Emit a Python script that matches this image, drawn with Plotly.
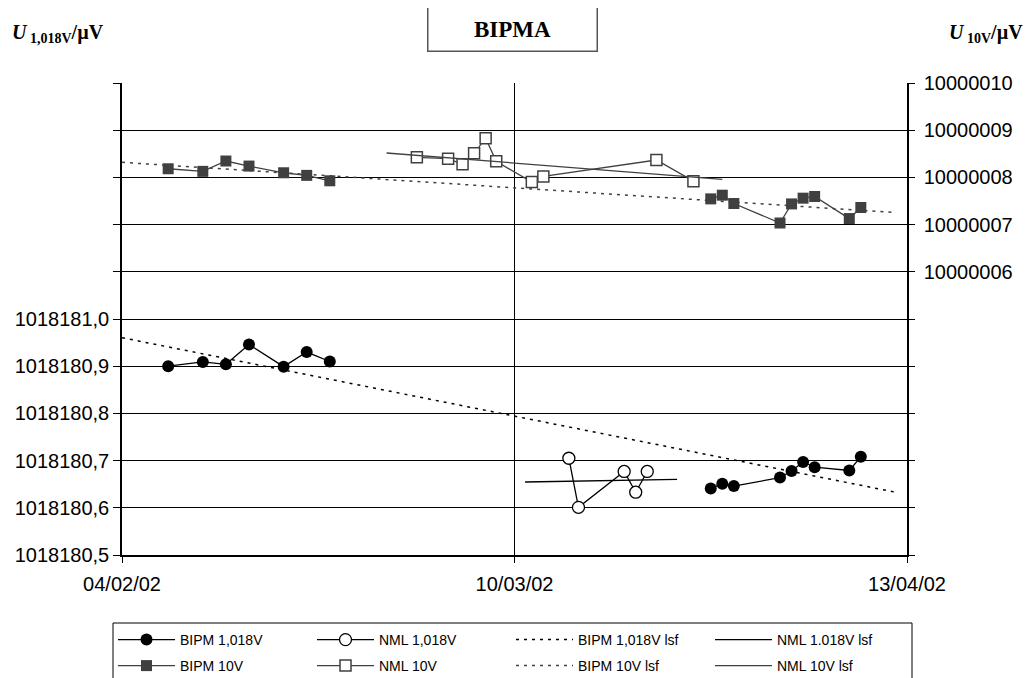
import plotly.graph_objects as go

# ---------------- data ----------------
bipm_dates = ["2002-02-08", "2002-02-11", "2002-02-13", "2002-02-15", "2002-02-18",
              "2002-02-20", "2002-02-22",
              "2002-03-27", "2002-03-28", "2002-03-29", "2002-04-02", "2002-04-03",
              "2002-04-04", "2002-04-05", "2002-04-08", "2002-04-09"]
bipm_1018 = [1018180.900, 1018180.909, 1018180.904, 1018180.946, 1018180.899,
             1018180.930, 1018180.910,
             1018180.641, 1018180.651, 1018180.646, 1018180.664, 1018180.678,
             1018180.697, 1018180.686, 1018180.679, 1018180.708]
bipm_10 = [10000008.183, 10000008.128, 10000008.347, 10000008.240, 10000008.098,
           10000008.043, 10000007.928,
           10000007.545, 10000007.623, 10000007.447, 10000007.034, 10000007.438,
           10000007.560, 10000007.596, 10000007.128, 10000007.362]
# gap between the two BIPM campaigns
bipm_break = 7

nml_1018_dates = ["2002-03-14 17:00", "2002-03-15 13:00", "2002-03-19 12:00",
                  "2002-03-20 12:00", "2002-03-21 12:00"]
nml_1018 = [1018180.705, 1018180.601, 1018180.677, 1018180.633, 1018180.677]

nml_10_dates = ["2002-03-01 13:00", "2002-03-04 06:00", "2002-03-05 12:00",
                "2002-03-06 12:00", "2002-03-07 12:00", "2002-03-08 10:00",
                "2002-03-11 12:00", "2002-03-12 12:00", "2002-03-22 07:00",
                "2002-03-25 12:00"]
nml_10 = [10000008.426, 10000008.396, 10000008.277, 10000008.511, 10000008.830,
          10000008.340, 10000007.900, 10000008.021, 10000008.368, 10000007.921]

# least-squares fit lines (end points)
bipm_lsf_dates = ["2002-02-04", "2002-04-12"]
bipm_1018_lsf = [1018180.9604, 1018180.633]
bipm_10_lsf = [10000008.319, 10000007.255]
nml_1018_lsf_dates = ["2002-03-10 22:00", "2002-03-24 02:00"]
nml_1018_lsf = [1018180.6547, 1018180.6604]
nml_10_lsf_dates = ["2002-02-26 22:00", "2002-03-28 00:00"]
nml_10_lsf = [10000008.517, 10000007.957]

x_tickvals = ["2002-02-04", "2002-03-10", "2002-04-13"]
x_ticktext = ["04/02/02", "10/03/02", "13/04/02"]
left_ticks = [1018180.5, 1018180.6, 1018180.7, 1018180.8, 1018180.9, 1018181.0]
left_text = ["1018180,5", "1018180,6", "1018180,7", "1018180,8", "1018180,9",
             "1018181,0"]
left_minor = [1018181.1, 1018181.2, 1018181.3, 1018181.4, 1018181.5]
right_ticks = [10000006, 10000007, 10000008, 10000009, 10000010]
right_text = ["10000006", "10000007", "10000008", "10000009", "10000010"]
right_minor = [10000000, 10000001, 10000002, 10000003, 10000004, 10000005]

# ---------------- figure ----------------
GRAY = "#404040"
fig = go.Figure()

def with_gap(xs, ys, k):
    return xs[:k] + [None] + xs[k:], ys[:k] + [None] + ys[k:]

bx, by = with_gap(bipm_dates, bipm_1018, bipm_break)
fig.add_trace(go.Scatter(x=bx, y=by, name="BIPM 1,018V", mode="lines+markers",
                         line=dict(color="black", width=1.3),
                         marker=dict(symbol="circle", size=12, color="black"),
                         connectgaps=False, legend="legend"))
fig.add_trace(go.Scatter(x=nml_1018_dates, y=nml_1018, name="NML 1,018V",
                         mode="lines+markers",
                         line=dict(color="black", width=1.3),
                         marker=dict(symbol="circle", size=12, color="white",
                                     line=dict(color="black", width=1.3)),
                         legend="legend"))
fig.add_trace(go.Scatter(x=bipm_lsf_dates, y=bipm_1018_lsf, name="BIPM 1,018V lsf",
                         mode="lines",
                         line=dict(color="black", width=1.5, dash="3px,5px"),
                         legend="legend"))
fig.add_trace(go.Scatter(x=nml_1018_lsf_dates, y=nml_1018_lsf, name="NML 1.018V lsf",
                         mode="lines", line=dict(color="black", width=1.3),
                         legend="legend"))

bx2, by2 = with_gap(bipm_dates, bipm_10, bipm_break)
fig.add_trace(go.Scatter(x=bx2, y=by2, name="BIPM 10V", mode="lines+markers",
                         yaxis="y2",
                         line=dict(color=GRAY, width=1.3),
                         marker=dict(symbol="square", size=11, color=GRAY),
                         connectgaps=False, legend="legend2"))
fig.add_trace(go.Scatter(x=nml_10_dates, y=nml_10, name="NML 10V",
                         mode="lines+markers", yaxis="y2",
                         line=dict(color=GRAY, width=1.3),
                         marker=dict(symbol="square", size=11, color="white",
                                     line=dict(color=GRAY, width=1.5)),
                         legend="legend2"))
fig.add_trace(go.Scatter(x=bipm_lsf_dates, y=bipm_10_lsf, name="BIPM 10V lsf",
                         mode="lines", yaxis="y2",
                         line=dict(color=GRAY, width=1.5, dash="3px,5px"),
                         legend="legend2"))
fig.add_trace(go.Scatter(x=nml_10_lsf_dates, y=nml_10_lsf, name="NML 10V lsf",
                         mode="lines", yaxis="y2",
                         line=dict(color=GRAY, width=1.3), legend="legend2"))

tickfont = dict(family="Liberation Sans, Arial, sans-serif", size=20, color="black")
legfont = dict(family="Liberation Sans, Arial, sans-serif", size=14, color="black")

# page body adds an 8px margin; plot area should sit at x 122..907, y 83..555
W, H = 1023, 670
ML, MT = 114, 75
PW, PH = 785, 472

def px_x(p):  # page pixel -> paper x
    return (p - 8 - ML) / PW

def px_y(p):  # page pixel -> paper y
    return (MT + PH - (p - 8)) / PH

legend_common = dict(orientation="h", xanchor="left", yanchor="middle",
                     entrywidth=127, entrywidthmode="pixels",
                     borderwidth=0, bgcolor="rgba(0,0,0,0)",
                     font=legfont, itemwidth=57, traceorder="normal")

fig.update_layout(
    width=W, height=H,
    margin=dict(l=ML, r=W - ML - PW, t=MT, b=H - MT - PH, autoexpand=False),
    paper_bgcolor="white", plot_bgcolor="white",
    showlegend=True,
    font=dict(family="Liberation Sans, Arial, sans-serif", color="black"),
    xaxis=dict(type="date", range=["2002-02-04", "2002-04-13"],
               tickvals=x_tickvals, ticktext=x_ticktext,
               showgrid=True, gridcolor="black", gridwidth=1,
               showline=True, linecolor="black", linewidth=1.5,
               ticks="outside", ticklen=6, tickcolor="black",
               ticklabelstandoff=4,
               tickfont=tickfont, zeroline=False),
    yaxis=dict(range=[1018180.5, 1018181.5], tickvals=left_ticks, ticktext=left_text,
               showgrid=True, gridcolor="black", gridwidth=1,
               showline=True, linecolor="black", linewidth=1.5,
               ticks="outside", ticklen=7, tickcolor="black",
               minor=dict(tickvals=left_minor, showgrid=True, gridcolor="black",
                          gridwidth=1, ticks="outside", ticklen=7,
                          tickcolor="black"),
               tickfont=tickfont, zeroline=False),
    yaxis2=dict(range=[10000000, 10000010], tickvals=right_ticks, ticktext=right_text,
                overlaying="y", side="right", showgrid=False,
                showline=True, linecolor="black", linewidth=1.5,
                ticks="outside", ticklen=6, tickcolor="black",
                ticklabelstandoff=5,
                minor=dict(tickvals=right_minor, showgrid=False, ticks="outside",
                           ticklen=6, tickcolor="black"),
                tickfont=tickfont, zeroline=False),
    legend=dict(x=px_x(113), y=px_y(640), **legend_common),
    legend2=dict(x=px_x(113), y=px_y(666), **legend_common),
    shapes=[
        dict(type="rect", xref="paper", yref="paper",
             x0=px_x(113), x1=px_x(912), y0=px_y(623), y1=px_y(690),
             line=dict(color="black", width=1), fillcolor="rgba(0,0,0,0)",
             layer="below"),
    ],
    annotations=[
        dict(text="<b><i>U</i><sub> 1,018V</sub>/µV</b>", xref="paper", yref="paper",
             x=px_x(10), y=px_y(33), xanchor="left", yanchor="middle", showarrow=False,
             font=dict(family="Liberation Serif, Times New Roman, serif", size=20,
                       color="black")),
        dict(text="<b><i>U</i><sub> 10V</sub>/µV</b>", xref="paper", yref="paper",
             x=px_x(1025), y=px_y(33), xanchor="right", yanchor="middle",
             showarrow=False,
             font=dict(family="Liberation Serif, Times New Roman, serif", size=20,
                       color="black")),
        dict(text="<b>BIPMA</b>", xref="paper", yref="paper",
             x=px_x(512), y=px_y(29.5), xanchor="center", yanchor="middle",
             showarrow=False,
             width=166, height=41, bordercolor="#555555", borderwidth=1.5,
             bgcolor="white",
             font=dict(family="Liberation Serif, Times New Roman, serif", size=23,
                       color="black")),
    ],
)

fig.write_html("out.html")
